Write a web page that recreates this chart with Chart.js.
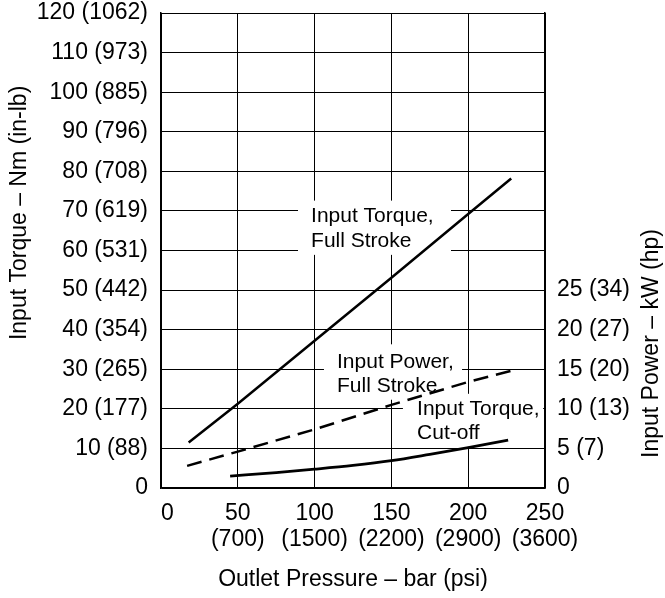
<!DOCTYPE html>
<html>
<head>
<meta charset="utf-8">
<script src="https://cdn.jsdelivr.net/npm/chart.js@4.4.1/dist/chart.umd.min.js"></script>
<style>
  html, body { margin: 0; padding: 0; background: #fff; }
</style>
</head>
<body>
<canvas id="pumpChart" width="665" height="598"></canvas>
<script>
// x axis: outlet pressure in bar, psi underneath
const pressureBar = [0, 50, 100, 150, 200, 250];
const pressurePsi = ['', '700', '1500', '2200', '2900', '3600'];

// left axis: input torque in Nm, in-lb in brackets
const torqueNm = [0, 10, 20, 30, 40, 50, 60, 70, 80, 90, 100, 110, 120];
const torqueInLb = ['', '88', '177', '265', '354', '442', '531', '619', '708', '796', '885', '973', '1062'];

// right axis: input power in kW, hp in brackets
const powerKw = [0, 5, 10, 15, 20, 25];
const powerHp = ['', '7', '13', '20', '27', '34'];

// curves
const torqueFullBar = [18, 50, 100, 150, 200, 228];
const torqueFullNm = [11.5, 21.3, 37.2, 53.1, 69.2, 78.2];

const powerFullBar = [17, 50, 100, 150, 200, 228];
const powerFullKw = [2.8, 4.6, 7.4, 10.5, 13.4, 14.8];

const torqueCutBar = [45, 75, 100, 125, 150, 175, 200, 226];
const torqueCutNm = [3.0, 3.9, 4.75, 5.7, 6.9, 8.5, 10.2, 12.1];

const toPoints = (xs, ys) => xs.map((x, i) => ({ x: x, y: ys[i] }));

const FONT = '"Liberation Sans", Arial, Helvetica, sans-serif';
const tickFont = { family: FONT, size: 23, lineHeight: 1.15 };

// curve labels sit on white boxes that hide the grid behind them
// (positions in bar / Nm)
const curveLabels = [
  { lines: ['Input Torque,', 'Full Stroke'], at: [97.7, 67.2], box: [89.2, 188.8, 72.6, 58.9] },
  { lines: ['Input Power,', 'Full Stroke'], at: [114.6, 30.4], box: [106.1, 196.0, 36.3, 22.3] },
  { lines: ['Input Torque,', 'Cut-off'], at: [166.7, 18.5], box: [157.5, 248.8, 23.8, 10.4] }
];

// both side titles are drawn here: neither is centred on its axis
const sideTitles = [
  { text: 'Input Torque – Nm (in-lb)', x: 20, nm: 69.5 },
  { text: 'Input Power – kW (hp)', x: 652, nm: 36.5 }
];

const labelPlugin = {
  id: 'curveLabels',
  beforeDatasetsDraw(chart) {
    const { ctx } = chart;
    const x = chart.scales.x;
    const y = chart.scales.y;
    ctx.save();
    curveLabels.forEach(l => {
      const x0 = x.getPixelForValue(l.box[0]);
      const x1 = x.getPixelForValue(l.box[1]);
      const y0 = y.getPixelForValue(l.box[2]);
      const y1 = y.getPixelForValue(l.box[3]);
      ctx.fillStyle = '#fff';
      ctx.fillRect(x0, y0, x1 - x0, y1 - y0);
      ctx.fillStyle = '#000';
      ctx.font = '21px ' + FONT;
      ctx.textAlign = 'left';
      ctx.textBaseline = 'alphabetic';
      const px = x.getPixelForValue(l.at[0]);
      const py = y.getPixelForValue(l.at[1]);
      l.lines.forEach((t, i) => ctx.fillText(t, px, py + i * 24.5));
    });
    ctx.restore();
  },
  afterDraw(chart) {
    const { ctx } = chart;
    const y = chart.scales.y;
    sideTitles.forEach(t => {
      ctx.save();
      ctx.translate(t.x, y.getPixelForValue(t.nm));
      ctx.rotate(-Math.PI / 2);
      ctx.fillStyle = '#000';
      ctx.font = '23px ' + FONT;
      ctx.textAlign = 'center';
      ctx.textBaseline = 'middle';
      ctx.fillText(t.text, 0, 0);
      ctx.restore();
    });
  }
};

// fixed axis boxes so the plot lands where the original one is
const fitSide = w => s => { s.width = w; s.paddingTop = 0; s.paddingBottom = 0; };

new Chart(document.getElementById('pumpChart'), {
  type: 'line',
  data: {
    datasets: [
      {
        label: 'Input Torque, Full Stroke',
        data: toPoints(torqueFullBar, torqueFullNm),
        yAxisID: 'y',
        borderColor: '#000',
        borderWidth: 2.5,
        pointRadius: 0,
        tension: 0
      },
      {
        label: 'Input Power, Full Stroke',
        data: toPoints(powerFullBar, powerFullKw),
        yAxisID: 'y1',
        borderColor: '#000',
        borderWidth: 2.5,
        borderDash: [15, 8],
        pointRadius: 0,
        tension: 0
      },
      {
        label: 'Input Torque, Cut-off',
        data: toPoints(torqueCutBar, torqueCutNm),
        yAxisID: 'y',
        borderColor: '#000',
        borderWidth: 2.8,
        pointRadius: 0,
        cubicInterpolationMode: 'monotone'
      }
    ]
  },
  options: {
    responsive: false,
    animation: false,
    devicePixelRatio: 1,
    layout: { padding: { top: 13, left: 0, right: 0, bottom: 0 } },
    plugins: {
      legend: { display: false },
      tooltip: { enabled: false }
    },
    scales: {
      x: {
        type: 'linear',
        min: 0,
        max: 250,
        afterBuildTicks: s => { s.ticks = pressureBar.map(v => ({ value: v })); },
        afterFit: s => { s.height = 110; },
        ticks: {
          color: '#000',
          font: tickFont,
          padding: 12,
          maxRotation: 0,
          autoSkip: false,
          callback: v => {
            const psi = pressurePsi[pressureBar.indexOf(v)];
            // the zero sits a little right of the corner in the original
            return psi ? [String(v), '(' + psi + ')'] : '  ' + v;
          }
        },
        grid: { color: '#000', lineWidth: 1, drawTicks: false },
        border: { color: '#000', width: 1.5 },
        title: {
          display: true,
          text: 'Outlet Pressure – bar (psi)',
          color: '#000',
          font: { family: FONT, size: 23 },
          padding: { top: 0, bottom: 5 }
        }
      },
      y: {
        type: 'linear',
        position: 'left',
        min: 0,
        max: 120,
        afterBuildTicks: s => { s.ticks = torqueNm.map(v => ({ value: v })); },
        afterFit: fitSide(161),
        ticks: {
          color: '#000',
          font: tickFont,
          padding: 13,
          autoSkip: false,
          callback: v => {
            const lb = torqueInLb[torqueNm.indexOf(v)];
            return lb ? v + ' (' + lb + ')' : String(v);
          }
        },
        grid: { color: '#000', lineWidth: 1, drawTicks: false },
        border: { color: '#000', width: 1.5 }
      },
      y1: {
        type: 'linear',
        position: 'right',
        min: 0,
        max: 60,
        afterBuildTicks: s => { s.ticks = powerKw.map(v => ({ value: v })); },
        afterFit: fitSide(120),
        ticks: {
          color: '#000',
          font: tickFont,
          padding: 12,
          autoSkip: false,
          callback: v => {
            const hp = powerHp[powerKw.indexOf(v)];
            return hp ? v + ' (' + hp + ')' : String(v);
          }
        },
        grid: { display: false, drawTicks: false },
        border: { color: '#000', width: 1.5 }
      }
    }
  },
  plugins: [labelPlugin]
});
</script>
</body>
</html>
